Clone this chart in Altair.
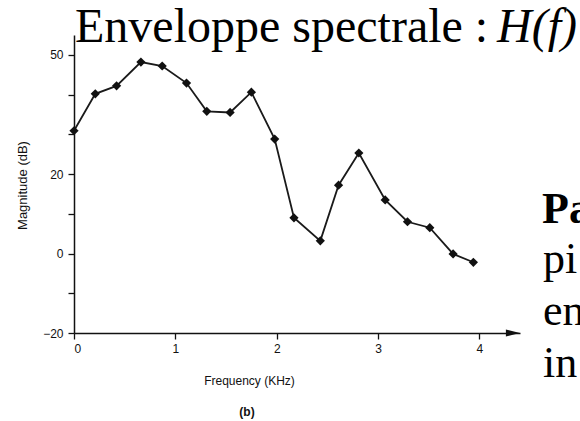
import altair as alt
import pandas as pd

freq_khz = [0.0, 0.21, 0.42, 0.66, 0.87, 1.11, 1.31, 1.54, 1.75, 1.98,
            2.17, 2.43, 2.61, 2.81, 3.07, 3.29, 3.51, 3.74, 3.94]
magnitude_db = [30.9, 40.2, 42.2, 48.2, 47.2, 42.9, 35.8, 35.5, 40.6, 28.8,
                9.0, 3.2, 17.2, 25.3, 13.5, 8.0, 6.5, -0.1, -2.2]
y_ticks = [-20, -10, 0, 10, 20, 30, 40, 50]
y_labelled = [-20, 0, 20, 50]
x_ticks = [0, 1, 2, 3, 4]
title_main = "Enveloppe spectrale :"
title_italic = "H(f)"
side_lines = ["pi", "en", "in"]
side_bold = "Pa"

df = pd.DataFrame({"f": freq_khz, "m": magnitude_db})

W, H = 446, 298
PAD_L, PAD_T = 74, 35

xs = alt.Scale(domain=[0, 4.4], nice=False, zero=False)
ys = alt.Scale(domain=[-20, 55], nice=False, zero=False)

lab_expr = "indexof(" + str(y_labelled) + ", datum.value) >= 0 ? datum.label : ''"

x_enc = alt.X("f:Q", scale=xs, axis=alt.Axis(
    values=x_ticks, title="Frequency (KHz)", grid=False, tickSize=6,
    labelPadding=4, labelFontSize=12, labelFont="Liberation Sans", labelColor="#111",
    titleFont="Liberation Sans", titleFontSize=12, titleFontWeight="normal", titleColor="#111",
    titleX=175, titleY=47, titleBaseline="middle",
    domainColor="#111", domainWidth=1.5, tickColor="#111", tickWidth=1.3, format="d"))
y_enc = alt.Y("m:Q", scale=ys, axis=alt.Axis(
    values=y_ticks, labelExpr=lab_expr, title="Magnitude (dB)", grid=False, tickSize=6,
    labelPadding=5, labelFontSize=12, labelFont="Liberation Sans", labelColor="#111",
    titleFont="Liberation Sans", titleFontSize=13, titleFontWeight="normal", titleColor="#111",
    titleX=-52, titleY=150, titleAngle=-90, titleBaseline="middle", titleAlign="center",
    domainColor="#111", domainWidth=1.5, tickColor="#111", tickWidth=1.3))

base = alt.Chart(df)
line = base.mark_line(color="#1a1a1a", strokeWidth=1.8).encode(x=x_enc, y=y_enc)
pts = base.mark_point(shape="diamond", filled=True, size=85, color="#111", opacity=1).encode(
    x="f:Q", y="m:Q")

arrow = alt.Chart(pd.DataFrame({"f": [4.33], "m": [-20]})).mark_point(
    shape="M-1,-0.5L1,0L-1,0.5Z", filled=True, size=196, color="#111", opacity=1
).encode(x="f:Q", y="m:Q")

one = pd.DataFrame({"k": [0]})
t1 = alt.Chart(one).mark_text(font="Liberation Serif", fontSize=48, align="left",
                               baseline="alphabetic", color="#000").encode(
    x=alt.value(1), y=alt.value(7), text=alt.value(title_main))
t2 = alt.Chart(one).mark_text(font="Liberation Serif", fontSize=48, fontStyle="italic",
                               align="left", baseline="alphabetic", color="#000").encode(
    x=alt.value(423), y=alt.value(7), text=alt.value(title_italic))

side = [alt.Chart(one).mark_text(font="Liberation Serif", fontSize=44, fontWeight="bold",
                                  align="left", baseline="alphabetic", color="#000").encode(
    x=alt.value(468), y=alt.value(188), text=alt.value(side_bold))]
for i, s in enumerate(side_lines):
    side.append(alt.Chart(one).mark_text(font="Liberation Serif", fontSize=44,
                                         align="left", baseline="alphabetic", color="#000").encode(
        x=alt.value(469), y=alt.value(238 + 52 * i), text=alt.value(s)))

lab_b = alt.Chart(one).mark_text(font="Liberation Sans", fontSize=12, fontWeight="bold",
                                  align="center", baseline="middle", color="#111").encode(
    x=alt.value(173), y=alt.value(377), text=alt.value("(b)"))

chart = alt.layer(line, pts, arrow, t1, t2, lab_b, *side).properties(
    width=W, height=H,
    autosize=alt.AutoSizeParams(type="none"),
    padding={"left": PAD_L, "top": PAD_T, "right": 580 - PAD_L - W, "bottom": 421 - PAD_T - H},
    background="white",
).configure_view(stroke=None)

chart.save("out.html", embed_options={"renderer": "svg", "actions": False})
